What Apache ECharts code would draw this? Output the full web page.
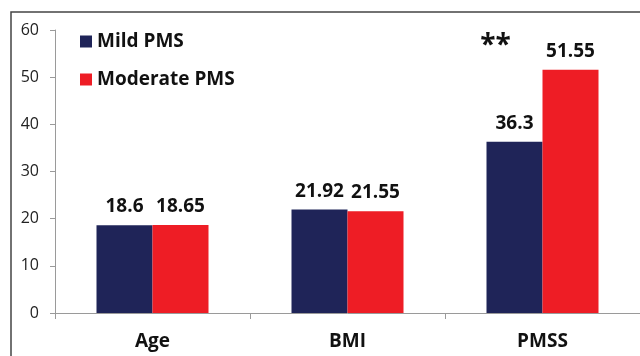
<!DOCTYPE html>
<html>
<head>
<meta charset="utf-8">
<script src="https://cdn.jsdelivr.net/npm/echarts@6/dist/echarts.min.js"></script>
<style>html,body{margin:0;padding:0;background:#fff}#c{width:640px;height:356px}</style>
</head>
<body>
<div id="c"></div>
<script>
const categories = ['Age', 'BMI', 'PMSS'];
const mildValues = [18.6, 21.92, 36.3];
const moderateValues = [18.65, 21.55, 51.55];
const significance = ['', '', '**'];
const yTicks = [0, 10, 20, 30, 40, 50, 60];
const seriesNames = ['Mild PMS', 'Moderate PMS'];

const FONT = '"Open Sans", "Liberation Sans", sans-serif';
const chart = echarts.init(document.getElementById('c'), null, {renderer: 'canvas'});
const labelStyle = {
  show: true, position: 'top', distance: 9,
  fontFamily: FONT, fontWeight: 'bold', fontSize: 19, color: '#111'
};
chart.setOption({
  animation: false,
  backgroundColor: '#fff',
  grid: {left: 55, right: -2, top: 30, bottom: 43, containLabel: false},
  legend: {
    orient: 'vertical', left: 80, top: 32, padding: 0, itemWidth: 12, itemHeight: 12,
    icon: 'rect', itemGap: 19,
    textStyle: {fontFamily: FONT, fontWeight: 'bold', fontSize: 19, color: '#111'},
    data: seriesNames
  },
  xAxis: {
    type: 'category', data: categories,
    axisLine: {lineStyle: {color: '#9a9a9a', width: 1}},
    axisTick: {show: true, length: 6, lineStyle: {color: '#9a9a9a'}},
    axisLabel: {fontFamily: FONT, fontWeight: 'bold', fontSize: 19, color: '#111', margin: 19}
  },
  yAxis: {
    type: 'value', min: yTicks[0], max: yTicks[yTicks.length - 1], interval: 10,
    axisLine: {show: true, lineStyle: {color: '#9a9a9a', width: 1}},
    axisTick: {show: true, length: 5, lineStyle: {color: '#9a9a9a'}},
    splitLine: {show: false},
    axisLabel: {fontFamily: FONT, fontSize: 16, color: '#222', margin: 16}
  },
  series: [
    {name: seriesNames[0], type: 'bar', data: mildValues, barWidth: 56, barGap: '0%',
     itemStyle: {color: '#1f2458'}, label: labelStyle},
    {name: seriesNames[1], type: 'bar', data: moderateValues, barWidth: 56,
     itemStyle: {color: '#ee1d25'}, label: labelStyle}
  ],
  graphic: [{
    type: 'rect', silent: true,
    shape: {x: 11, y: 12, width: 700, height: 400},
    style: {fill: 'none', stroke: '#444', lineWidth: 1.5}
  }]
});

// significance marks, positioned from the axes
const extra = [];
significance.forEach(function (s, i) {
  if (!s) return;
  const p = chart.convertToPixel({gridIndex: 0}, [i, Math.max(mildValues[i], moderateValues[i])]);
  extra.push({
    type: 'text', silent: true,
    x: p[0] - 47, y: p[1] - 38,
    style: {text: s, fontFamily: FONT, fontWeight: 'bold', fontSize: 28, fill: '#111', align: 'center'}
  });
});
const g = chart.getOption().graphic[0].elements.slice();
chart.setOption({graphic: g.concat(extra)});
</script>
</body>
</html>
